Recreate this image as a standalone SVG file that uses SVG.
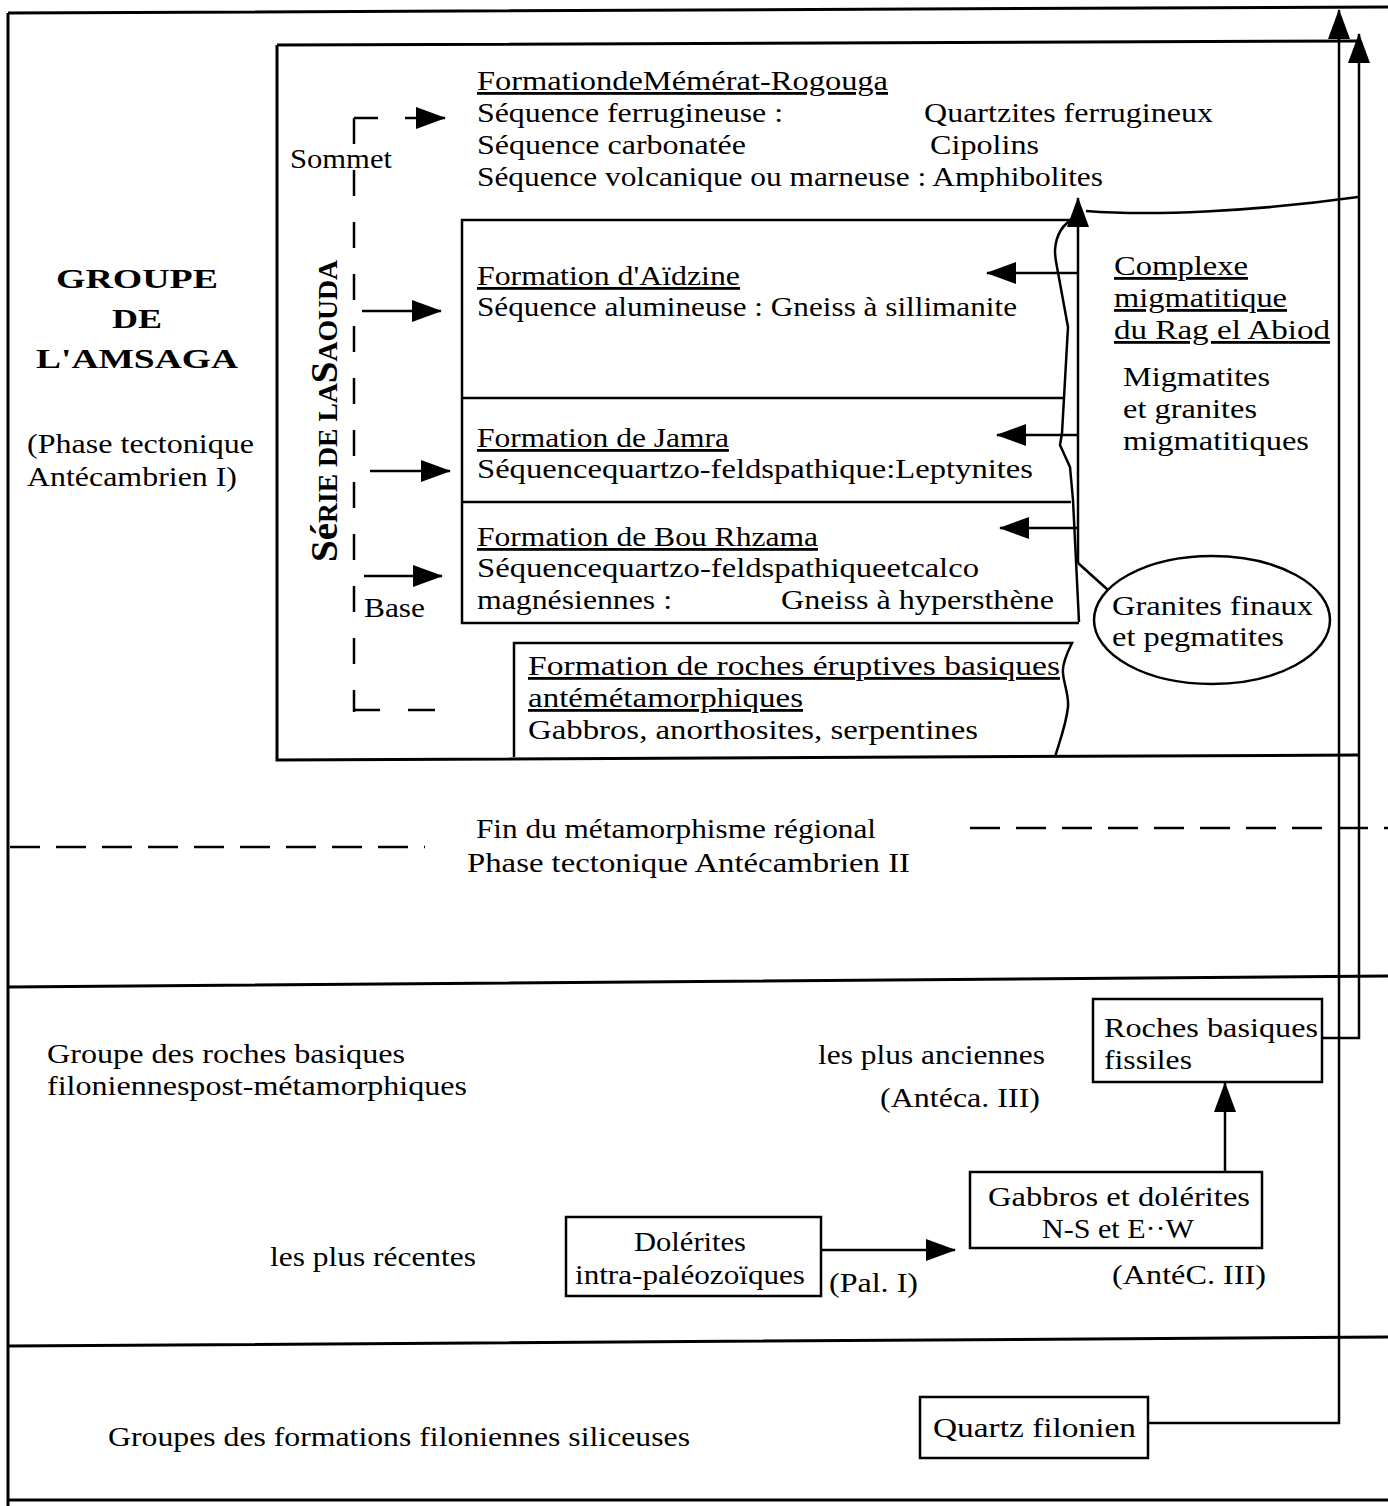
<svg xmlns="http://www.w3.org/2000/svg" width="1388" height="1506" viewBox="0 0 1388 1506">
<defs>
<style>
.t{font-family:"Liberation Serif","Times New Roman",serif;font-size:28px;fill:#000}
.b{font-weight:bold}
.u{text-decoration:underline}
.ln{fill:none;stroke:#000;stroke-width:2.5}
.fr{fill:none;stroke:#000;stroke-width:3}
.bx{fill:#fff;stroke:#000;stroke-width:2.5}
.ds{fill:none;stroke:#000;stroke-width:2.5;stroke-dasharray:26 26}
.dh{fill:none;stroke:#000;stroke-width:2.5;stroke-dasharray:30 16}
.ar{fill:none;stroke:#000;stroke-width:2.5;marker-end:url(#ah)}
</style>
<marker id="ah" markerUnits="userSpaceOnUse" markerWidth="30" markerHeight="22" refX="29" refY="11" orient="auto">
<path d="M0,0 L30,11 L0,22 z" fill="#000"/>
</marker>
</defs>
<rect width="1388" height="1506" fill="#fff"/>

<g id="frame">
<path class="fr" d="M8,13 L1388,7 M8,13 V1506 M8,987 L1388,976 M8,1346 L1388,1337 M8,1500 H1388"/>
<path class="dh" d="M10,847 H425 M970,828 H1388"/>
</g>

<g id="amsaga-title">
<text class="t b" x="137" y="288" font-size="36" text-anchor="middle" textLength="162" lengthAdjust="spacingAndGlyphs">GROUPE</text>
<text class="t b" x="137" y="328" font-size="36" text-anchor="middle" textLength="50" lengthAdjust="spacingAndGlyphs">DE</text>
<text class="t b" x="137" y="368" font-size="36" text-anchor="middle" textLength="202" lengthAdjust="spacingAndGlyphs">L'AMSAGA</text>
<text class="t" x="27" y="453" textLength="227" lengthAdjust="spacingAndGlyphs">(Phase tectonique</text>
<text class="t" x="27" y="486" textLength="210" lengthAdjust="spacingAndGlyphs">Antécambrien I)</text>
</g>

<g id="amsaga-box">
<path class="fr" d="M277,45 L1358,41 M277,45 V760 L1358,755"/>
</g>

<g id="serie-saouda">
<path class="ds" d="M354,118 V712"/>
<path class="ln" d="M354,118 H378 M354,710 H380 M408,710 H435"/>
<text class="t" x="290" y="168" textLength="102" lengthAdjust="spacingAndGlyphs">Sommet</text>
<text class="t" x="364" y="617" textLength="61" lengthAdjust="spacingAndGlyphs">Base</text>
<text class="t b" transform="translate(337,562) rotate(-90)" textLength="302" lengthAdjust="spacingAndGlyphs"><tspan font-size="38">Sé</tspan><tspan font-size="27">RIE DE LA</tspan><tspan font-size="38">S</tspan><tspan font-size="27">AOUDA</tspan></text>
</g>

<g id="memerat">
<text class="t u" x="477" y="90" textLength="411" lengthAdjust="spacingAndGlyphs">FormationdeMémérat-Rogouga</text>
<text class="t" x="477" y="122" textLength="306" lengthAdjust="spacingAndGlyphs">Séquence ferrugineuse :</text>
<text class="t" x="924" y="122" textLength="289" lengthAdjust="spacingAndGlyphs">Quartzites ferrugineux</text>
<text class="t" x="477" y="154" textLength="269" lengthAdjust="spacingAndGlyphs">Séquence carbonatée</text>
<text class="t" x="930" y="154" textLength="109" lengthAdjust="spacingAndGlyphs">Cipolins</text>
<text class="t" x="477" y="186" textLength="626" lengthAdjust="spacingAndGlyphs">Séquence volcanique ou marneuse : Amphibolites</text>
</g>

<g id="formation-boxes">
<path class="ln" d="M1078,220 H462 V623 H1079 M462,398 H1063 M462,502 H1071"/>
<path class="ln" d="M1075,218 C1062,224 1056,236 1055,250 C1055,258 1056,262 1057,267 L1068,327 L1062,433 L1060,445 L1070,467 L1073,500 L1079,622"/>
</g>

<g id="aidzine">
<text class="t u" x="477" y="285" textLength="263" lengthAdjust="spacingAndGlyphs">Formation d'Aïdzine</text>
<text class="t" x="477" y="316" textLength="540" lengthAdjust="spacingAndGlyphs">Séquence alumineuse : Gneiss à sillimanite</text>
</g>

<g id="jamra">
<text class="t u" x="477" y="447" textLength="252" lengthAdjust="spacingAndGlyphs">Formation de Jamra</text>
<text class="t" x="477" y="478" textLength="556" lengthAdjust="spacingAndGlyphs">Séquencequartzo-feldspathique:Leptynites</text>
</g>

<g id="bou-rhzama">
<text class="t u" x="477" y="546" textLength="341" lengthAdjust="spacingAndGlyphs">Formation de Bou Rhzama</text>
<text class="t" x="477" y="577" textLength="502" lengthAdjust="spacingAndGlyphs">Séquencequartzo-feldspathiqueetcalco</text>
<text class="t" x="477" y="609" textLength="195" lengthAdjust="spacingAndGlyphs">magnésiennes :</text>
<text class="t" x="781" y="609" textLength="273" lengthAdjust="spacingAndGlyphs">Gneiss à hypersthène</text>
</g>

<g id="roches-eruptives">
<path class="ln" d="M514,757 V643 H1072 C1066,655 1062,665 1063,673 C1064,685 1069,695 1068,707 C1066,725 1060,740 1055,757"/>
<text class="t u" x="528" y="675" textLength="532" lengthAdjust="spacingAndGlyphs">Formation de roches éruptives basiques</text>
<text class="t u" x="528" y="707" textLength="275" lengthAdjust="spacingAndGlyphs">antémétamorphiques</text>
<text class="t" x="528" y="739" textLength="450" lengthAdjust="spacingAndGlyphs">Gabbros, anorthosites, serpentines</text>
</g>

<g id="complexe-migmatitique">
<text class="t u" x="1114" y="275" textLength="134" lengthAdjust="spacingAndGlyphs">Complexe</text>
<text class="t u" x="1114" y="307" textLength="173" lengthAdjust="spacingAndGlyphs">migmatitique</text>
<text class="t u" x="1114" y="339" textLength="216" lengthAdjust="spacingAndGlyphs">du Rag el Abiod</text>
<text class="t" x="1123" y="386" textLength="147" lengthAdjust="spacingAndGlyphs">Migmatites</text>
<text class="t" x="1123" y="418" textLength="134" lengthAdjust="spacingAndGlyphs">et granites</text>
<text class="t" x="1123" y="450" textLength="186" lengthAdjust="spacingAndGlyphs">migmatitiques</text>
</g>

<g id="granites-finaux">
<ellipse class="bx" cx="1212" cy="620" rx="118" ry="64"/>
<text class="t" x="1112" y="615" textLength="201" lengthAdjust="spacingAndGlyphs">Granites finaux</text>
<text class="t" x="1112" y="646" textLength="172" lengthAdjust="spacingAndGlyphs">et pegmatites</text>
</g>

<g id="fin-metamorphisme">
<text class="t" x="476" y="838" textLength="400" lengthAdjust="spacingAndGlyphs">Fin du métamorphisme régional</text>
<text class="t" x="467" y="872" textLength="443" lengthAdjust="spacingAndGlyphs">Phase  tectonique Antécambrien II</text>
</g>

<g id="groupe-basiques">
<text class="t" x="47" y="1063" textLength="358" lengthAdjust="spacingAndGlyphs">Groupe des roches basiques</text>
<text class="t" x="47" y="1095" textLength="420" lengthAdjust="spacingAndGlyphs">filoniennespost-métamorphiques</text>
<text class="t" x="818" y="1064" textLength="227" lengthAdjust="spacingAndGlyphs">les plus anciennes</text>
<text class="t" x="880" y="1107" textLength="160" lengthAdjust="spacingAndGlyphs">(Antéca. III)</text>
<text class="t" x="270" y="1266" textLength="206" lengthAdjust="spacingAndGlyphs">les plus récentes</text>
</g>

<g id="roches-fissiles">
<rect class="bx" x="1093" y="999" width="229" height="83"/>
<text class="t" x="1104" y="1037" textLength="214" lengthAdjust="spacingAndGlyphs">Roches basiques</text>
<text class="t" x="1104" y="1069" textLength="88" lengthAdjust="spacingAndGlyphs">fissiles</text>
</g>

<g id="gabbros-dolerites">
<rect class="bx" x="970" y="1172" width="292" height="76"/>
<text class="t" x="988" y="1206" textLength="262" lengthAdjust="spacingAndGlyphs">Gabbros et dolérites</text>
<text class="t" x="1042" y="1238" textLength="152" lengthAdjust="spacingAndGlyphs">N-S et E··W</text>
<text class="t" x="1112" y="1284" textLength="154" lengthAdjust="spacingAndGlyphs">(AntéC. III)</text>
</g>

<g id="dolerites-intra">
<rect class="bx" x="566" y="1217" width="255" height="79"/>
<text class="t" x="634" y="1251" textLength="112" lengthAdjust="spacingAndGlyphs">Dolérites</text>
<text class="t" x="575" y="1284" textLength="230" lengthAdjust="spacingAndGlyphs">intra-paléozoïques</text>
<text class="t" x="829" y="1292" textLength="89" lengthAdjust="spacingAndGlyphs">(Pal. I)</text>
</g>

<g id="siliceuses">
<text class="t" x="108" y="1746" textLength="582" lengthAdjust="spacingAndGlyphs" transform="translate(0,-300)">Groupes des formations filoniennes siliceuses</text>
</g>

<g id="quartz-filonien">
<rect class="bx" x="920" y="1397" width="228" height="61"/>
<text class="t" x="933" y="1437" textLength="203" lengthAdjust="spacingAndGlyphs">Quartz  filonien</text>
</g>

<g id="connectors">
<path class="ar" d="M405,118 H445"/>
<path class="ar" d="M362,311 H441"/>
<path class="ar" d="M370,471 H450"/>
<path class="ar" d="M364,576 H442"/>
<path class="ar" d="M1078,273 H987"/>
<path class="ar" d="M1078,435 H997"/>
<path class="ar" d="M1078,528 H1000"/>
<path class="ar" d="M1078,563 V198"/>
<path class="ln" d="M1078,563 L1108,590"/>
<path class="ln" d="M1086,211 C1150,216 1250,212 1358,197"/>
<path class="ar" d="M821,1250 H955"/>
<path class="ar" d="M1225,1172 V1083"/>
<path class="ar" d="M1322,1038 H1359 V34"/>
<path class="ar" d="M1148,1423 H1339 V10"/>
</g>
</svg>
